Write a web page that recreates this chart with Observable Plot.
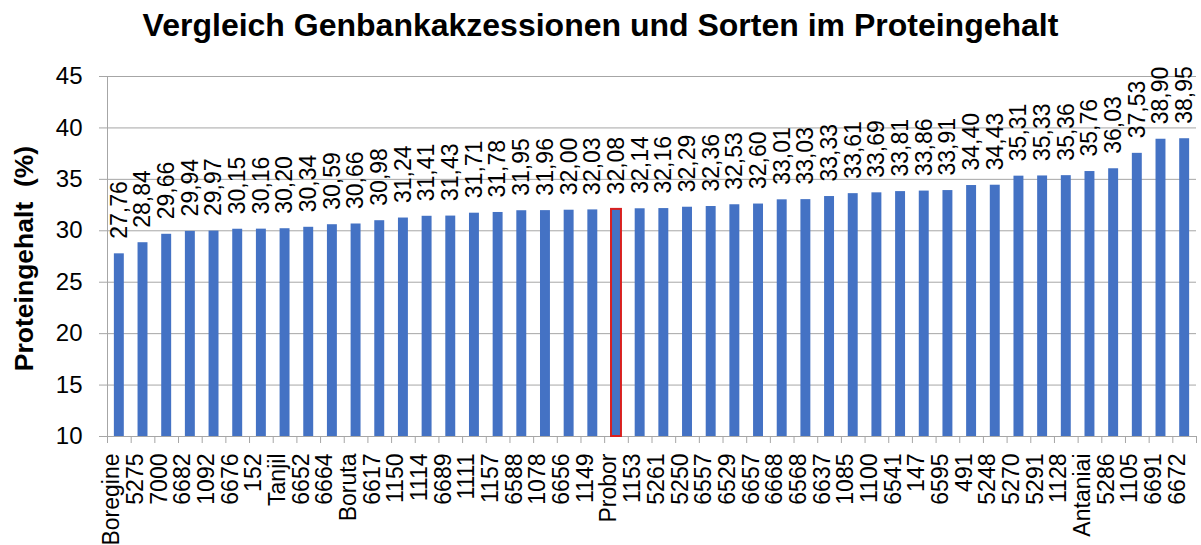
<!DOCTYPE html>
<html>
<head>
<meta charset="utf-8">
<script src="https://cdn.jsdelivr.net/npm/d3@7"></script>
<script src="https://cdn.jsdelivr.net/npm/@observablehq/plot@0.6"></script>
<style>
  body { margin: 0; background: #ffffff; font-family: "Liberation Sans", Arial, sans-serif; }
  #wrap { width: 1201px; height: 545px; overflow: hidden; background: #ffffff; }
  #title { width: 1201px; height: 50px; line-height: 50px; text-align: center; font-weight: bold; font-size: 32px; color: #000; }
</style>
</head>
<body>
<div id="wrap">
  <div id="title">Vergleich Genbankakzessionen und Sorten im Proteingehalt</div>
  <div id="chart"></div>
</div>
<script>
const categories = ["Boregine","5275","7000","6682","1092","6676","152","Tanjil","6652","6664","Boruta","6617","1150","1114","6689","1111","1157","6588","1078","6656","1149","Probor","1153","5261","5250","6557","6529","6657","6668","6568","6637","1085","1100","6541","147","6595","491","5248","5270","5291","1128","Antaniai","5286","1105","6691","6672"];
const values = [27.76,28.84,29.66,29.94,29.97,30.15,30.16,30.20,30.34,30.59,30.66,30.98,31.24,31.41,31.43,31.71,31.78,31.95,31.96,32.00,32.03,32.08,32.14,32.16,32.29,32.36,32.53,32.60,33.01,33.03,33.33,33.61,33.69,33.81,33.86,33.91,34.40,34.43,35.31,35.33,35.36,35.76,36.03,37.53,38.90,38.95];
const yTicks = [10,15,20,25,30,35,40,45];
const highlighted = ["Probor"];
const yLabel = "Proteingehalt\u00a0 (%)";

const data = categories.map((c, i) => ({name: c, value: values[i]}));
const fmt = v => v.toFixed(2).replace(".", ",");

const W = 1201, H = 495, mL = 107, mR = 5, mT = 26, mB = 109;
const step = (W - mL - mR) / categories.length;
const gray = "#a6a6a6";
const yMin = yTicks[0];

const chart = Plot.plot({
  width: W,
  height: H,
  marginLeft: mL,
  marginRight: mR,
  marginTop: mT,
  marginBottom: mB,
  style: {fontFamily: "Liberation Sans, Arial, sans-serif", fontSize: "23px", color: "#000", background: "#fff", overflow: "visible"},
  x: {domain: categories, paddingInner: 0.58, paddingOuter: 0.29},
  y: {domain: [yTicks[0], yTicks[yTicks.length - 1]]},
  marks: [
    Plot.gridY(yTicks, {stroke: gray, strokeOpacity: 1}),
    Plot.ruleX([categories[0]], {x: d => d, dx: -step / 2, stroke: gray}),
    Plot.axisY(yTicks, {tickSize: 8, tickPadding: 17, fontSize: 24, stroke: gray, label: null}),
    Plot.axisX(categories, {tickSize: 7, dx: -step / 2, tickFormat: () => "", stroke: gray, label: null}),
    Plot.axisX([categories[categories.length - 1]], {tickSize: 7, dx: step / 2, tickFormat: () => "", stroke: gray, label: null}),
    Plot.barY(data, {x: "name", y1: yMin, y2: "value", fill: "#4472C4",
      stroke: d => highlighted.includes(d.name) ? "#d9201f" : "none", strokeWidth: 2}),
    Plot.text(data, {x: "name", y: "value", text: d => fmt(d.value), rotate: -90, textAnchor: "start", dy: -15, fontSize: 23, fill: "#000"}),
    Plot.text(categories, {x: d => d, frameAnchor: "bottom", rotate: -90, textAnchor: "end", dy: 17, fontSize: 23, fill: "#000"}),
    Plot.text([yLabel], {frameAnchor: "left", dx: -83, dy: 2, rotate: -90, textAnchor: "middle", fontWeight: "bold", fontSize: 26.5, fill: "#000"})
  ]
});
document.getElementById("chart").appendChild(chart);
</script>
</body>
</html>
